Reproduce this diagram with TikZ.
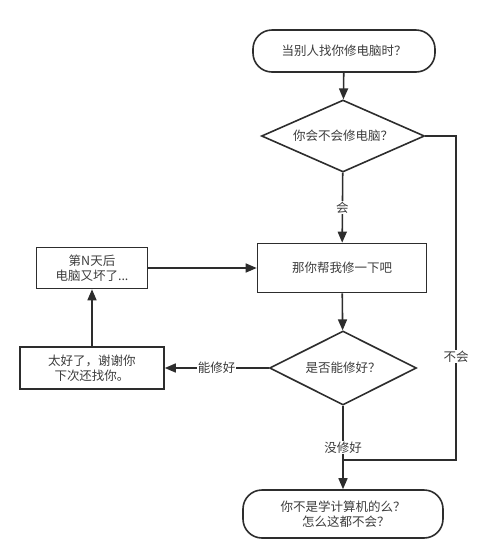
\documentclass[tikz,border=0pt]{standalone}
\usepackage{fontspec}
\setmainfont{Noto Sans CJK SC}
\usetikzlibrary{shapes.geometric,arrows.meta}
\definecolor{linegray}{RGB}{45,45,45}
\definecolor{textgray}{RGB}{60,60,60}

\begin{document}
\begin{tikzpicture}[x=1pt,y=-1pt,
    every node/.style={font=\fontsize{12.5}{15}\selectfont, text=textgray},
    terminal/.style={draw=linegray, line width=1.6pt, rounded corners=19pt, align=center},
    decision/.style={draw=linegray, line width=1.6pt, diamond, aspect=2.2, inner sep=0pt},
    procbox/.style={draw=linegray, line width=1.6pt, align=center},
    flow/.style={draw=linegray, line width=1.6pt, -{Triangle[length=11pt,width=9pt]}},
    wire/.style={draw=linegray, line width=1.6pt},
    lbl/.style={fill=white, inner sep=1pt}]
    \useasboundingbox (0,0) rectangle (481,542);

    % Main column
    \node[terminal, minimum width=182, minimum height=42] (start) at (344,51) {当别人找你修电脑时？};
    \node[decision, minimum width=163, minimum height=72] (ask) at (343,136) {你会不会修电脑？};
    \node[procbox, minimum width=169, minimum height=49] (fix) at (342,268) {那你帮我修一下吧};
    \node[decision, minimum width=147, minimum height=74] (canfix) at (343,368) {是否能修好？};
    \node[terminal, minimum width=200, minimum height=48] (end) at (343,514) {你不是学计算机的么？\\\ \ 怎么这都不会？};

    % Left loop
    \node[procbox, minimum width=111, minimum height=41] (broken) at (92,268) {第N天后\\电脑又坏了...};
    \node[procbox, minimum width=144, minimum height=42] (thanks) at (92,368) {太好了，谢谢你\\下次还找你。};

    % Joints of the right line
    \coordinate (rcorner) at (456,460);
    \coordinate (join) at (343,460);

    % Connectors
    \draw[flow] (start) -- (ask);
    \draw[flow] (ask) -- node[lbl]{会} (fix);
    \draw[flow] (fix) -- (canfix);
    \draw[flow] (canfix) -- node[lbl]{能修好} (thanks);
    \draw[flow] (thanks) -- (broken);
    \draw[flow] (broken) -- (fix);
    \draw[flow] (canfix) -- node[lbl]{没修好} (end);
    \draw[wire] (ask.east) -| node[lbl, pos=0.84]{不会} (rcorner) -- (join);
\end{tikzpicture}
\end{document}
